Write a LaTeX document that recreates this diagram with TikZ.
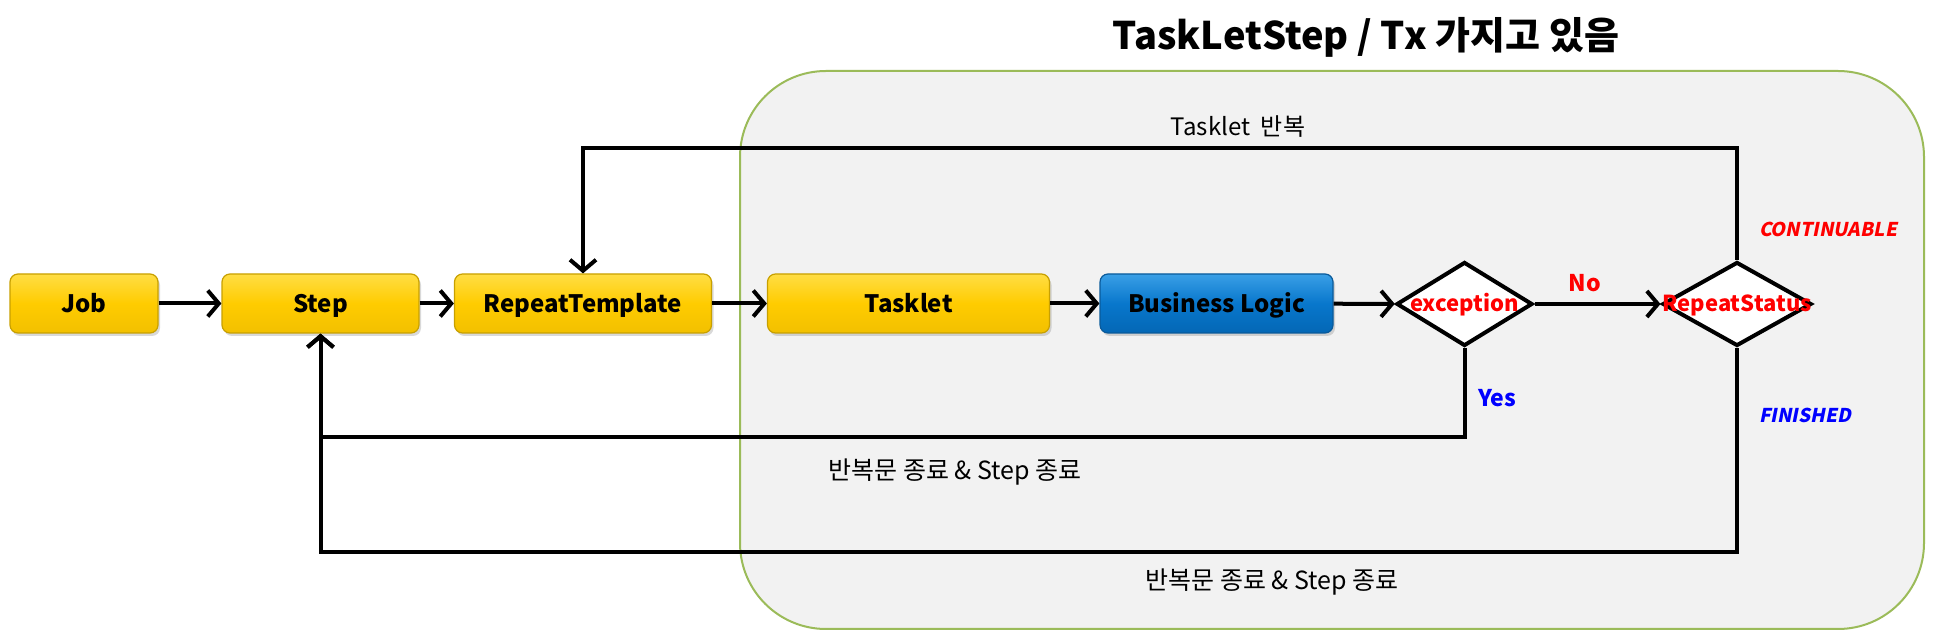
\documentclass[tikz,border=0pt]{standalone}
\usepackage{fontspec}
\setmainfont{Noto Sans CJK KR}
\newfontfamily\slfont{Noto Sans CJK KR}[FakeSlant=0.2]
\usetikzlibrary{arrows.meta,shapes.geometric,shadows}
\definecolor{ytop}{HTML}{FFDD44}
\definecolor{ymid}{HTML}{FFCC00}
\definecolor{ybot}{HTML}{F2C000}
\definecolor{yborder}{HTML}{C8A000}
\definecolor{btop}{HTML}{3A9FE6}
\definecolor{bmid}{HTML}{0877CC}
\definecolor{bbot}{HTML}{0467B5}
\definecolor{bborder}{HTML}{0A5A9A}
\definecolor{regfill}{HTML}{F2F2F2}
\definecolor{regborder}{HTML}{9BBB59}
\tikzset{
  box/.style={rectangle, rounded corners=4pt, minimum height=29.5pt, line width=0.6pt,
    font=\fontsize{12}{14}\selectfont\bfseries, text=black, text height=8.6pt, text depth=0pt,
    drop shadow={shadow xshift=1pt, shadow yshift=-1.5pt, opacity=0.3}},
  ybox/.style={box, draw=yborder, top color=ytop, bottom color=ybot, middle color=ymid},
  bbox/.style={box, draw=bborder, top color=btop, bottom color=bbot, middle color=bmid},
  dia/.style={diamond, draw=black, fill=white, line width=2pt, inner sep=0pt,
    minimum height=42pt, font=\fontsize{11}{13}\selectfont\bfseries, text=red,
    text height=7.5pt, text depth=0pt},
  conn/.style={line width=2pt, -{Straight Barb[length=5.5pt,width=13pt]}},
  plain/.style={font=\fontsize{12}{14}\selectfont, text=black},
  redlab/.style={font=\fontsize{11.5}{14}\selectfont\bfseries, text=red},
  bluelab/.style={font=\fontsize{11.5}{14}\selectfont\bfseries, text=blue},
}
\begin{document}
\begin{tikzpicture}[x=0.5pt,y=-0.5pt]
\useasboundingbox (0,0) rectangle (1933,640);
% region
\draw[fill=regfill, draw=regborder, line width=1pt, rounded corners=43pt] (740,71) rectangle (1924,629);
\node[font=\fontsize{19}{22}\selectfont\bfseries] (title) at (1366,37) {TaskLetStep / Tx 가지고 있음};
% boxes
\node[ybox, minimum width=74pt] (job) at (84,303.5) {Job};
\node[ybox, minimum width=98.5pt] (step) at (320.5,303.5) {Step};
\node[ybox, minimum width=128.5pt] (rt) at (583,303.5) {RepeatTemplate};
\node[ybox, minimum width=141pt] (tasklet) at (908.5,303.5) {Tasklet};
\node[bbox, minimum width=116.5pt] (bl) at (1216.5,303.5) {Business Logic};
\node[dia, minimum width=68pt] (exc) at (1464.5,304) {\makebox[0pt][c]{exception}};
\node[dia, minimum width=74.5pt] (rs) at (1737,304) {\makebox[0pt][c]{RepeatStatus}};
% helper coordinates
\coordinate (topy) at (0,148);
\coordinate (midy) at (0,437);
\coordinate (boty) at (0,552);
% connectors
\draw[conn] (job) -- (step);
\draw[conn] (step) -- (rt);
\draw[conn] (rt) -- (tasklet);
\draw[conn] (tasklet) -- (bl);
\draw[conn] (bl) -- (exc);
\draw[conn] (exc) -- (rs);
\draw[conn] (rs.north) -- (rs.north |- topy) -| (rt.north);
\draw[conn] (exc.south) -- (exc.south |- midy) -| (step.south);
\draw[conn] (rs.south) -- (rs.south |- boty) -| (step.south);
% labels
\node[plain] (lrep) at (1238,127) {Tasklet\ \ 반복};
\node[redlab, font=\fontsize{9.5}{12}\selectfont\slfont\bfseries] (lcont) at (1828,229) {CONTINUABLE};
\node[redlab] (lno) at (1585,283) {No};
\node[bluelab] (lyes) at (1497,398) {Yes};
\node[bluelab, font=\fontsize{9.5}{12}\selectfont\slfont\bfseries] (lfin) at (1805,415) {FINISHED};
\node[plain, font=\fontsize{12.5}{15}\selectfont] (lend1) at (955,472) {반복문 종료 \& Step 종료};
\node[plain, font=\fontsize{12.5}{15}\selectfont] (lend2) at (1272,582) {반복문 종료 \& Step 종료};
\end{tikzpicture}
\end{document}
